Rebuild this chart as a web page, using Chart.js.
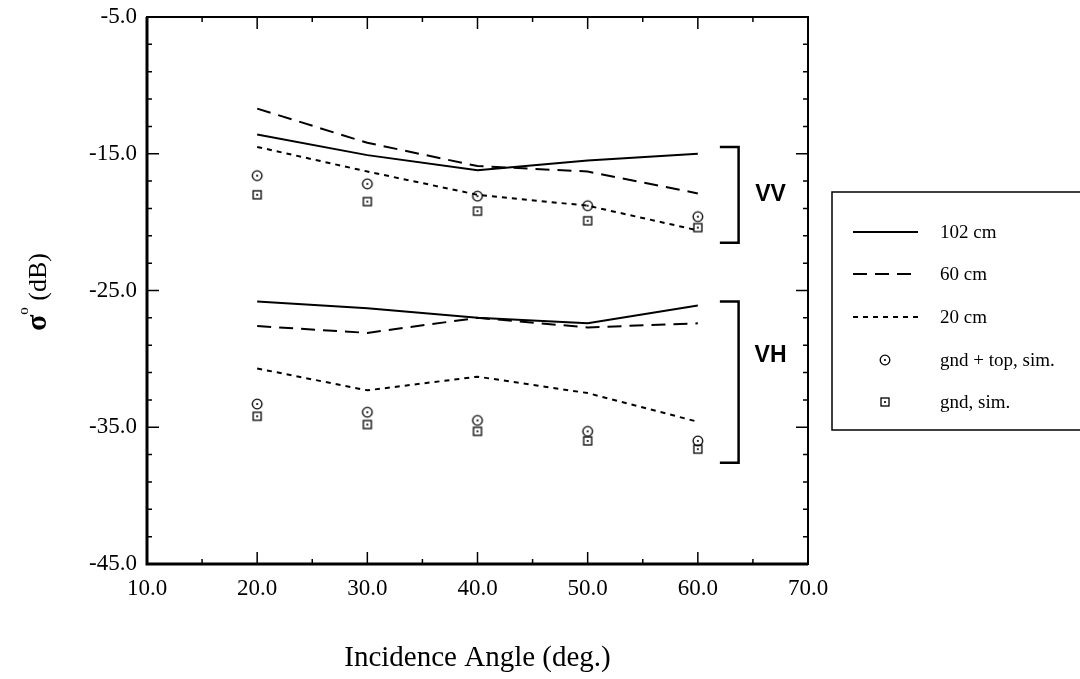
<!DOCTYPE html>
<html>
<head>
<meta charset="utf-8">
<script src="https://cdn.jsdelivr.net/npm/chart.js@4.4.1/dist/chart.umd.min.js"></script>
<style>
  html, body { margin: 0; padding: 0; background: #fff; }
  #wrap { width: 1080px; height: 679px; position: relative; }
</style>
</head>
<body>
<div id="wrap"><canvas id="chart" width="1080" height="679"></canvas></div>
<script>
// incidence angles (deg.)
const angles = [20, 30, 40, 50, 60];

// VV polarisation
const vv102 = [-13.6, -15.1, -16.2, -15.5, -15.0];
const vv60 = [-11.7, -14.2, -15.9, -16.3, -17.9];
const vv20 = [-14.5, -16.3, -18.0, -18.8, -20.6];
const vvGndTop = [-16.6, -17.2, -18.1, -18.8, -19.6];
const vvGnd = [-18.0, -18.5, -19.2, -19.9, -20.4];

// VH polarisation
const vh102 = [-25.8, -26.3, -27.0, -27.4, -26.1];
const vh60 = [-27.6, -28.1, -27.0, -27.7, -27.4];
const vh20 = [-30.7, -32.3, -31.3, -32.5, -34.6];
const vhGndTop = [-33.3, -33.9, -34.5, -35.3, -36.0];
const vhGnd = [-34.2, -34.8, -35.3, -36.0, -36.6];

// group brackets + labels (data units)
const bracketX = [62.0, 63.7, 63.7, 62.0];
const bracketVV = [-14.5, -14.5, -21.5, -21.5];
const bracketVH = [-25.8, -25.8, -37.6, -37.6];
const groupLabels = ['VV', 'VH'];
const groupLabelX = [66.6, 66.6];
const groupLabelY = [-18.0, -29.8];

const legendLabels = ['102 cm', '60 cm', '20 cm', 'gnd + top, sim.', 'gnd, sim.'];

const SERIF = '"Liberation Serif", "Times New Roman", serif';

function markerCanvas(kind) {
  const c = document.createElement('canvas');
  c.width = 14; c.height = 14;
  const g = c.getContext('2d');
  g.strokeStyle = '#000';
  g.fillStyle = '#000';
  g.lineWidth = 1.3;
  if (kind === 'circle') {
    g.beginPath(); g.arc(7, 7, 4.8, 0, Math.PI * 2); g.stroke();
  } else {
    g.strokeRect(3, 3, 8, 8);
  }
  g.beginPath(); g.arc(7, 7, 1.1, 0, Math.PI * 2); g.fill();
  return c;
}
const circleDot = markerCanvas('circle');
const squareDot = markerCanvas('square');

function pts(xs, ys) { return xs.map((x, i) => ({ x, y: ys[i] })); }

const solid = [];
const dashed = [14, 8];
const dotted = [5, 5];

function lineDs(label, ys, dash) {
  return { label, data: pts(angles, ys), showLine: true, borderColor: '#000', borderWidth: 2,
    borderDash: dash, pointRadius: 0, fill: false, tension: 0 };
}
function markDs(label, ys, img) {
  return { label, data: pts(angles, ys), showLine: false, pointStyle: img, pointRadius: 7,
    borderColor: '#000', backgroundColor: '#000' };
}
function bracketDs(ys) {
  return { label: 'bracket', data: pts(bracketX, ys), showLine: true, borderColor: '#000',
    borderWidth: 2.5, pointRadius: 0, fill: false, tension: 0 };
}

const legendStyles = [
  { dash: solid }, { dash: dashed }, { dash: dotted }, { img: circleDot }, { img: squareDot },
];

const framePlugin = {
  id: 'frame',
  afterDraw(chart) {
    const ctx = chart.ctx;
    const a = chart.chartArea;
    const xs = chart.scales.x, ys = chart.scales.y;
    ctx.save();
    ctx.strokeStyle = '#000';
    ctx.lineWidth = 2;
    ctx.strokeRect(a.left, a.top, a.right - a.left, a.bottom - a.top);
    ctx.lineWidth = 3;
    ctx.beginPath();
    ctx.moveTo(a.left, a.top); ctx.lineTo(a.left, a.bottom); ctx.lineTo(a.right, a.bottom);
    ctx.stroke();

    // inward ticks, all four sides
    ctx.lineWidth = 1.5;
    ctx.beginPath();
    for (let v = 10; v <= 70; v += 5) {
      const px = xs.getPixelForValue(v);
      const len = v % 10 === 0 ? 12 : 5;
      ctx.moveTo(px, a.bottom); ctx.lineTo(px, a.bottom - len);
      ctx.moveTo(px, a.top); ctx.lineTo(px, a.top + len);
    }
    for (let v = -45; v <= -5; v += 2) {
      const py = ys.getPixelForValue(v);
      const len = (v + 5) % 10 === 0 ? 12 : 5;
      ctx.moveTo(a.left, py); ctx.lineTo(a.left + len, py);
      ctx.moveTo(a.right, py); ctx.lineTo(a.right - len, py);
    }
    ctx.stroke();

    // group labels
    ctx.fillStyle = '#000';
    ctx.font = 'bold 23px "Liberation Sans", Arial, sans-serif';
    ctx.textAlign = 'center';
    ctx.textBaseline = 'middle';
    groupLabels.forEach((t, i) => {
      ctx.fillText(t, xs.getPixelForValue(groupLabelX[i]), ys.getPixelForValue(groupLabelY[i]));
    });

    // x title
    ctx.font = '29px ' + SERIF;
    ctx.fillText('Incidence Angle (deg.)', (a.left + a.right) / 2, 658);

    // y title with superscript
    ctx.save();
    ctx.translate(37, 292);
    ctx.rotate(-Math.PI / 2);
    ctx.textAlign = 'left';
    ctx.textBaseline = 'alphabetic';
    const sFont = 'bold 30px ' + SERIF, oFont = '15px ' + SERIF, dFont = '26px ' + SERIF;
    ctx.font = sFont; const w1 = ctx.measureText('σ').width;
    ctx.font = oFont; const w2 = ctx.measureText('o').width;
    ctx.font = dFont; const w3 = ctx.measureText(' (dB)').width;
    let x0 = -(w1 + w2 + w3) / 2;
    ctx.font = sFont; ctx.fillText('σ', x0, 9); x0 += w1;
    ctx.font = oFont; ctx.fillText('o', x0, -9); x0 += w2;
    ctx.font = dFont; ctx.fillText(' (dB)', x0, 9);
    ctx.restore();

    // legend box
    ctx.lineWidth = 1.5;
    ctx.strokeRect(832, 192, 260, 238);
    const rows = [232, 274, 317, 360, 402];
    ctx.font = '19px ' + SERIF;
    ctx.textAlign = 'left';
    ctx.textBaseline = 'middle';
    legendLabels.forEach((t, i) => {
      const y = rows[i];
      const st = legendStyles[i];
      if (st.img) {
        ctx.drawImage(st.img, 885 - 7, y - 7);
      } else {
        ctx.save();
        ctx.lineWidth = 2;
        ctx.setLineDash(st.dash);
        ctx.beginPath(); ctx.moveTo(853, y); ctx.lineTo(918, y); ctx.stroke();
        ctx.restore();
      }
      ctx.fillText(t, 940, y + 1);
    });
    ctx.restore();
  }
};

new Chart(document.getElementById('chart').getContext('2d'), {
  type: 'scatter',
  data: {
    datasets: [
      lineDs('VV 102 cm', vv102, solid),
      lineDs('VV 60 cm', vv60, dashed),
      lineDs('VV 20 cm', vv20, dotted),
      lineDs('VH 102 cm', vh102, solid),
      lineDs('VH 60 cm', vh60, dashed),
      lineDs('VH 20 cm', vh20, dotted),
      markDs('VV gnd + top, sim.', vvGndTop, circleDot),
      markDs('VV gnd, sim.', vvGnd, squareDot),
      markDs('VH gnd + top, sim.', vhGndTop, circleDot),
      markDs('VH gnd, sim.', vhGnd, squareDot),
      bracketDs(bracketVV),
      bracketDs(bracketVH),
    ]
  },
  options: {
    animation: false,
    responsive: false,
    devicePixelRatio: 1,
    layout: { padding: { top: 17, right: 272, left: 0, bottom: 0 } },
    plugins: { legend: { display: false }, tooltip: { enabled: false } },
    scales: {
      x: {
        type: 'linear', min: 10, max: 70,
        afterFit: (s) => { s.height = 115; s.paddingLeft = 0; s.paddingRight = 0; },
        grid: { display: false, drawTicks: false },
        border: { display: false },
        ticks: { stepSize: 10, padding: 11, color: '#000', font: { family: SERIF, size: 23 },
          callback: (v) => v.toFixed(1) },
      },
      y: {
        type: 'linear', min: -45, max: -5,
        afterFit: (s) => { s.width = 147; s.paddingTop = 0; s.paddingBottom = 0; },
        grid: { display: false, drawTicks: false },
        border: { display: false },
        ticks: { stepSize: 10, padding: 10, color: '#000', font: { family: SERIF, size: 23 },
          callback: (v) => v.toFixed(1) },
      },
    },
  },
  plugins: [framePlugin],
});
</script>
</body>
</html>
